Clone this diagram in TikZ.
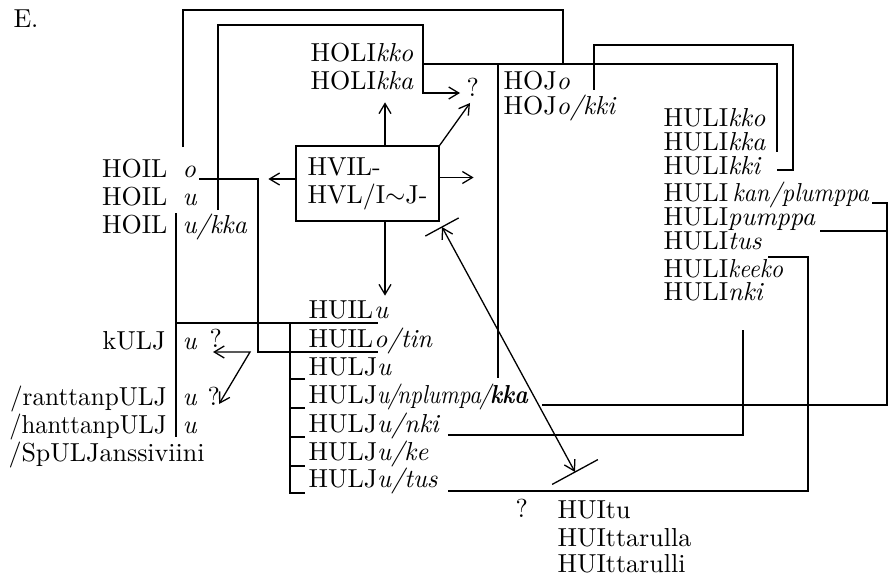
\documentclass[tikz,border=0pt]{standalone}
\usetikzlibrary{arrows.meta,calc}
\newcommand\fsz{\fontsize{10}{10.77}\selectfont}
\tikzset{
  vtip/.tip={Straight Barb[length=3.85pt,width=4.6pt]},
  lbl/.style={inner sep=0pt,anchor=base west,font=\fsz},
  stem/.style={lbl,anchor=base east},
  sfx/.style={lbl,font=\fsz\itshape},
  link/.style={line width=0.5pt},
  arr/.style={link,-vtip},
  darr/.style={link,vtip-vtip},
}

\begin{document}
\begin{tikzpicture}[x=0.3846pt,y=-0.3846pt]
\path[use as bounding box] (0,0) rectangle (893,576);
% left column
\node[lbl] (tag) at (13,28) {E.};
\node[stem] (hoilo) at (168,177) {HOIL};
\node[sfx] (hoilo-s) at (182,177) {o};
\node[stem] (hoilu) at (168,205) {HOIL};
\node[sfx] (hoilu-s) at (182,205) {u};
\node[stem] (hoilukka) at (168,233) {HOIL};
\node[sfx] (hoilukka-s) at (182,233) {u/kka};
\node[stem] (kulj) at (166,349) {kULJ};
\node[sfx] (kulj-s) at (182,349) {u};
\node[lbl] (kulj-q) at (209,347) {?};
\node[stem] (rantt) at (167,405) {\scalebox{0.97}[1]{/ranttanpULJ}};
\node[sfx] (rantt-s) at (182,405) {u};
\node[lbl] (rantt-q) at (207,405) {?};
\node[stem] (hantt) at (167,433) {\scalebox{0.95}[1]{/hanttanpULJ}};
\node[sfx] (hantt-s) at (182,433) {u};
\node[lbl] (spulj) at (8,461) {/SpULJanssiviini};
% top and centre
\node[lbl] (holikko) at (310,62) {HOLI\textit{kko}};
\node[lbl] (holikka) at (310,90) {HOLI\textit{kka}};
\node[lbl] (q-top) at (466,97) {?};
\node[draw,link,inner sep=0pt,minimum width=55pt,minimum height=28.85pt,
  align=left,font=\fsz] (root) at (367.5,183.5) {HVIL-\\HVL/I$\sim$J-};
\node[lbl] (hojo) at (503,90) {HOJ\textit{o}};
\node[lbl] (hojokki) at (503,115) {HOJ\textit{o/kki}};
% right column
\node[lbl] (hulikko) at (663,127) {HULI\textit{kko}};
\node[lbl] (hulikka) at (663,150) {HULI\textit{kka}};
\node[lbl] (hulikki) at (663,174) {HULI\textit{kki}};
\node[lbl] (hulikan) at (663,201) {HULI\,\scalebox{0.93}[1]{\textit{kan/plumppa}}};
\node[lbl] (hulipum) at (663,225) {HULI\textit{pumppa}};
\node[lbl] (hulitus) at (663,249) {HULI\textit{tus}};
\node[lbl] (hulikee) at (663,277) {HULI\scalebox{0.92}[1]{\textit{keeko}}};
\node[lbl] (hulinki) at (663,300) {HULI\textit{nki}};
% lower middle
\node[lbl] (huilu) at (308,318) {HUIL};
\node[sfx] (huilu-s) at (huilu.base east) {u};
\node[lbl] (huilo) at (308,347) {HUIL};
\node[sfx] (huilo-s) at (huilo.base east) {o/tin};
\node[lbl] (huljA) at (308,375) {HULJ\textit{u}};
\node[lbl] (huljB) at (308,403) {HULJ\scalebox{0.88}[1]{\textit{u\kern-.08em/\kern-.08em nplumpa\kern-.08em/\kern-.04em}\textbf{\textit{kka}}}};
\node[lbl] (huljC) at (308,432) {HULJ\textit{u/nki}};
\node[lbl] (huljD) at (308,460) {HULJ\textit{u/ke}};
\node[lbl] (huljE) at (308,487) {HULJ\textit{u/tus}};
\node[lbl] (q-bot) at (515,517) {?};
\node[lbl] (huitu) at (557,518) {HUItu};
\node[lbl] (huitla) at (557,546) {HUIttarulla};
\node[lbl] (huitli) at (557,572) {HUIttarulli};

% wire ends and joints
\coordinate (w-o) at (183,147);
\coordinate (w-u) at (218,210);
\coordinate (w-oo) at (199,179);
\coordinate (j1) at (423,64);
\coordinate (j2) at (498,64);
\coordinate (j3) at (563,64);

% arrows out of the box
\draw[arr] ([shift={(17.5,0)}]root.north) -- ++(0,-43);
\draw[arr] (root.north east) -- (470,103);
\draw[arr] ([shift={(0,-6)}]root.east) -- ++(34,0);
\draw[arr] ([shift={(0,-4.5)}]root.west) -- ++(-27,0);
\draw[arr] ([shift={(17.5,0)}]root.south) -- ++(0,74);

% wires
\draw[link] (w-o) |- (563,10) -- (j3);
\draw[link] (w-u) |- (423,25) -- (j1);
\draw[arr] (j1) |- ([shift={(-6,-4)}]q-top.base west);
\draw[link] (j1) -| (777,152);
\draw[link] (j2) -- (498,378);
\draw[link] (594,90) |- (793,45) |- (777,170);
\draw[link] (w-oo) -| (258,352) -- ([shift={(4,5)}]huilo.base east);
\draw[link] (176,213) -- (176,437);
\draw[link] (176,323) -- ([shift={(4,5)}]huilu.base east);
\draw[link] (290,323) |- (305,493);
\foreach \y in {379,408,437,466}
  \draw[link] (290,\y) -- ++(15,0);
\draw[link] ([shift={(13,2)}]huljB.base east) -| (887,203) -- ++(-15,0);
\draw[link] (820,231) -- (887,231);
\draw[link] ([shift={(7,3)}]huljC.base east) -| (743,330);
\draw[link] ([shift={(10,4)}]huljE.base east) -| (808,257) -- (768,257);

% kULJ question arrows
\coordinate (kq) at (250,352);
\draw[darr] (213,352) -- (kq) -- (219,404);

% long double arrow with bars
\coordinate (dA) at (442,227);
\coordinate (dB) at (575,472);
\draw[darr] (dA) -- (dB);
\draw[link] ($(dA)!7.3pt!90:(dB)$) -- ($(dA)!7.3pt!-90:(dB)$);
\draw[link] ($(dB)!10pt!90:(dA)$) -- ($(dB)!10pt!-90:(dA)$);
\end{tikzpicture}
\end{document}
